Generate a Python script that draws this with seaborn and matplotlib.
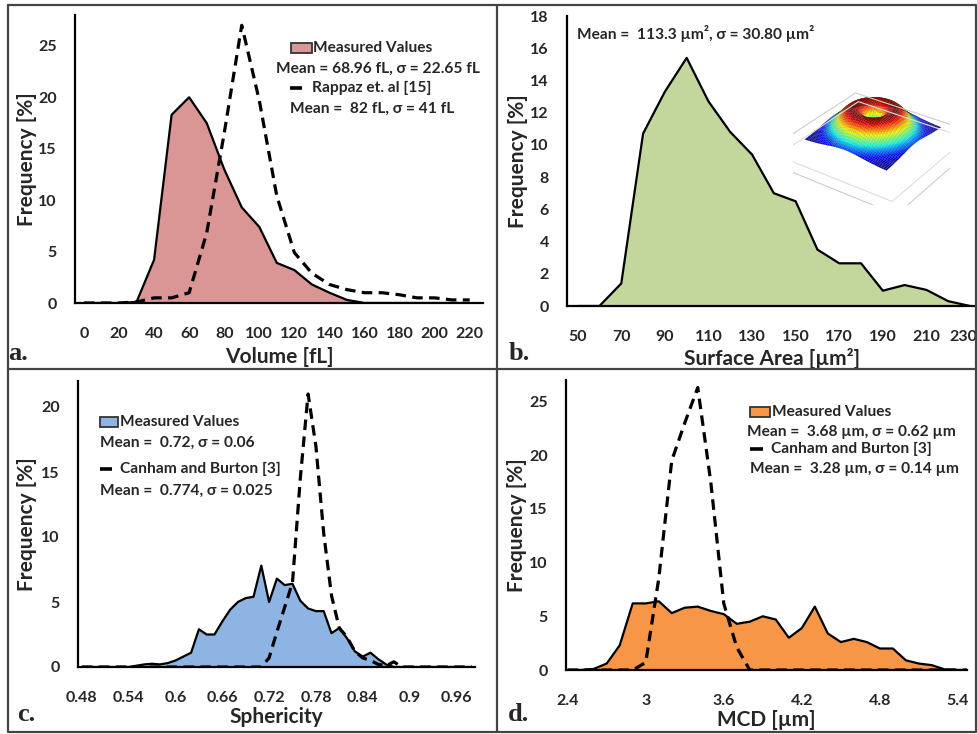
import numpy as np
import matplotlib
matplotlib.use("Agg")
import matplotlib.pyplot as plt
from matplotlib.patches import Rectangle
from matplotlib.lines import Line2D
from matplotlib.transforms import ScaledTranslation
import seaborn as sns

# ---- data ----
# a. volume distribution [fL]
vol_x = [0, 10, 20, 30, 40, 50, 60, 70, 80, 90, 100, 110, 120, 130, 140, 150, 160, 170, 180, 190, 200, 210, 220]
vol_meas = [0, 0, 0, 0.1, 4.2, 18.3, 20.0, 17.5, 13.0, 9.3, 7.4, 3.9, 3.2, 1.8, 1.0, 0.3, 0, 0, 0, 0, 0, 0, 0]
vol_rappaz = [0, 0, 0, 0.1, 0.5, 0.5, 1.0, 6.8, 16.5, 27.0, 19.7, 10.4, 4.9, 2.9, 1.8, 1.3, 1.0, 1.0, 0.8, 0.5, 0.5, 0.3, 0.3]

# b. surface area [um^2]
sa_x = [50, 60, 70, 80, 90, 100, 110, 120, 130, 140, 150, 160, 170, 180, 190, 200, 210, 220, 230]
sa_meas = [0, 0, 1.4, 10.7, 13.3, 15.4, 12.7, 10.8, 9.4, 7.0, 6.5, 3.5, 2.65, 2.65, 0.95, 1.3, 1.0, 0.3, 0]

# c. sphericity
sph_x = [round(0.48 + 0.01 * i, 2) for i in range(51)]
sph_meas = [0, 0, 0, 0, 0, 0, 0,
            0.1, 0.2, 0.25, 0.2, 0.3, 0.5, 0.8, 1.1, 2.9, 2.5, 2.5, 3.5, 4.4, 5.0, 5.3, 5.4,
            7.8, 5.0, 6.8, 6.3, 6.4, 5.1, 4.5, 4.3, 4.3, 2.6, 3.0, 2.2, 1.2, 0.8, 1.1, 0.6, 0.2,
            0, 0, 0, 0, 0, 0, 0, 0, 0, 0, 0]
sph_canham = [0] * 24 + [0.7, 2.7, 4.6, 6.5, 14.5, 21.0, 17.0, 10.3, 5.5, 3.0, 2.3, 1.2, 0.7, 0.5, 0.2, 0.1, 0.4] + [0] * 10

# d. MCD [um]
mcd_x = [round(2.4 + 0.1 * i, 1) for i in range(32)]
mcd_meas = [0, 0, 0.1, 0.6, 2.3, 6.2, 6.2, 6.4, 5.3, 5.8, 5.9, 5.5, 5.2, 4.3, 4.5, 5.0, 4.7, 3.0, 3.9, 5.9,
            3.4, 2.6, 2.9, 2.6, 2.0, 2.0, 0.9, 0.6, 0.45, 0.05, 0, 0]
mcd_canham = [0] * 6 + [0.7, 8.5, 19.5, 23.0, 26.3, 17.5, 6.2, 2.1, 0] + [0] * 17

sns.set_style("white")
plt.rcParams['font.family'] = ['Lato', 'DejaVu Sans']
plt.rcParams['font.weight'] = 'bold'

W, H = 978, 734
fig = plt.figure(figsize=(W / 100, H / 100), dpi=100)


def box(l, r, b, t):
    return [l / W, 1 - b / H, (r - l) / W, (b - t) / H]


def fx(x):
    return x / W


def fy(y):
    return 1 - y / H


dash = (0, (3.3, 2.0))
tick_fs = 11.5
lab_fs = 15


def panel(ax, x, meas, ref, color, xlim, ylim, major, minor, yticks, xlab, ylab_x, xlab_y):
    ax.fill_between(x, meas, color=color, lw=0, zorder=1)
    sns.lineplot(x=x, y=meas, ax=ax, color="black", lw=1.6, zorder=2)
    if ref is not None:
        sns.lineplot(x=x, y=ref, ax=ax, color="black", lw=2.3, linestyle=dash, zorder=3)
    ax.set_xlim(*xlim)
    ax.set_ylim(*ylim)
    ax.set_xticks(major)
    ax.set_xticklabels([f"{v:g}" for v in major])
    ax.set_xticks(minor, minor=True)
    ax.set_yticks(yticks)
    ax.tick_params(axis="x", which="major", length=0, pad=17, labelsize=tick_fs)
    ax.tick_params(axis="x", which="minor", length=5, width=1.5, direction="inout", color="black")
    ax.tick_params(axis="y", length=0, pad=13, labelsize=tick_fs)
    for s in ["top", "right"]:
        ax.spines[s].set_visible(False)
    for s in ["left", "bottom"]:
        ax.spines[s].set_color("black")
        ax.spines[s].set_linewidth(1.6)
        ax.spines[s].set_zorder(4)
    ax.set_xlabel(xlab, fontsize=lab_fs, fontweight="bold")
    ax.set_ylabel("Frequency [%]", fontsize=lab_fs, fontweight="bold")
    ax.xaxis.label.set_va("center")
    ax.yaxis.label.set_va("center")
    ax.xaxis.set_label_coords(0.5, xlab_y)
    ax.yaxis.set_label_coords(ylab_x, 0.5)


ax_a = fig.add_axes(box(75, 483, 303, 15))
panel(ax_a, vol_x, vol_meas, vol_rappaz, "#D99694", (-5.1, 227.6), (0, 28),
      list(range(0, 221, 20)), list(range(0, 221, 10)), [0, 5, 10, 15, 20, 25],
      "Volume [fL]", -48 / 408, -54 / 288)

ax_b = fig.add_axes(box(567, 977, 306, 16))
panel(ax_b, sa_x, sa_meas, None, "#C3D69B", (45.1, 233.2), (0, 18),
      list(range(50, 231, 20)), list(range(55, 230, 10)), list(range(0, 19, 2)),
      "Surface Area [µm²]", -49 / 410, -52 / 290)
last = ax_b.get_xticklabels()[-1]
last.set_ha("right")
last.set_transform(last.get_transform() + ScaledTranslation(0.07, 0, fig.dpi_scale_trans))

ax_c = fig.add_axes(box(78, 475, 667, 381))
panel(ax_c, sph_x, sph_meas, sph_canham, "#8EB4E3", (0.475, 0.984), (0, 22),
      [0.48, 0.54, 0.6, 0.66, 0.72, 0.78, 0.84, 0.9, 0.96],
      [round(0.495 + 0.02 * i, 3) for i in range(25)], [0, 5, 10, 15, 20],
      "Sphericity", -51 / 397, -50 / 286)

ax_d = fig.add_axes(box(566, 967, 670, 380))
panel(ax_d, mcd_x, mcd_meas, mcd_canham, "#F79646", (2.387, 5.47), (0, 27),
      [2.4, 3.0, 3.6, 4.2, 4.8, 5.4], [round(2.58 + 0.2 * i, 2) for i in range(15)],
      [0, 5, 10, 15, 20, 25], "MCD [µm]", -49 / 401, -50 / 290)

# ---- legends drawn as text ----
fs = 11.2


def patch(l, r, t, b, color):
    fig.add_artist(Rectangle((fx(l), fy(b)), (r - l) / W, (b - t) / H, transform=fig.transFigure,
                             facecolor=color, edgecolor="#333333", lw=1.3))


def dash_sym(l, r, y):
    fig.add_artist(Line2D([fx(l), fx(r)], [fy(y), fy(y)], transform=fig.transFigure,
                          color="black", lw=2.6, solid_capstyle="butt"))


def txt(x, y, s, ha="left", size=fs):
    fig.text(fx(x), fy(y), s, ha=ha, va="center", fontsize=size, fontweight="bold")


patch(291, 312, 43, 53, "#D99694")
txt(313, 48, "Measured Values")
txt(378, 69, "Mean = 68.96 fL, σ = 22.65 fL", ha="center")
dash_sym(290, 302, 88)
txt(312, 88, "Rappaz et. al [15]")
txt(290, 109, "Mean =  82 fL, σ = 41 fL")

txt(577, 33, "Mean =  113.3 µm², σ = 30.80 µm²")

patch(100, 118, 417, 427, "#8EB4E3")
txt(120, 422, "Measured Values")
txt(100, 443, "Mean =  0.72, σ = 0.06")
dash_sym(100, 112, 469)
txt(120, 469, "Canham and Burton [3]")
txt(100, 491, "Mean =  0.774, σ = 0.025")

patch(750, 770, 407, 417, "#F79646")
txt(772, 412, "Measured Values")
txt(747, 432, "Mean =  3.68 µm, σ = 0.62 µm")
dash_sym(750, 763, 449)
txt(771, 449, "Canham and Burton [3]")
txt(750, 469, "Mean =  3.28 µm, σ = 0.14 µm")

# panel letters
for lab, x, y in [("a.", 8, 360), ("b.", 509, 360), ("c.", 17, 721), ("d.", 508, 721)]:
    fig.text(fx(x), fy(y), lab, ha="left", va="baseline", fontsize=19, fontweight="bold",
             family=["Liberation Serif", "DejaVu Serif"])

# frame lines between panels
frame = dict(transform=fig.transFigure, color="#444444", lw=1.6)
fig.add_artist(Line2D([fx(8), fx(976), fx(976), fx(8), fx(8)], [fy(5), fy(5), fy(732), fy(732), fy(5)], **frame))
fig.add_artist(Line2D([fx(497), fx(497)], [fy(5), fy(732)], **frame))
fig.add_artist(Line2D([fx(8), fx(976)], [fy(369), fy(369)], **frame))

# small 3D cell-shape picture in panel b (decoration only)
ax3 = fig.add_axes(box(765, 978, 205, 48), projection="3d")
u = np.linspace(-1.0, 1.0, 50)
X, Y = np.meshgrid(u, u)
R = np.hypot(X, Y)
Z = 0.55 * np.exp(-((R - 0.45) / 0.4) ** 2) + 0.2 * np.exp(-(R / 1.0) ** 2) - 0.15 * np.exp(-(R / 0.18) ** 2)
ax3.plot_surface(X, Y, Z, cmap="jet", rstride=1, cstride=1, linewidth=0.15, edgecolor=(0, 0, 0, 0.25))
fl = -0.35
ax3.plot([-1.7, 1.7, 1.7, -1.7, -1.7], [-1.7, -1.7, 1.7, 1.7, -1.7], [fl] * 5, color="#cccccc", lw=0.8)
ax3.plot([-1.4, 1.4, 1.4, -1.4, -1.4], [-1.4, -1.4, 1.4, 1.4, -1.4], [fl] * 5, color="#dddddd", lw=0.8)
ax3.set_xlim(-1.7, 1.7)
ax3.set_ylim(-1.7, 1.7)
ax3.set_zlim(fl, 0.9)
ax3.view_init(elev=30, azim=-55)
ax3.set_box_aspect((1.6, 1.6, 0.5), zoom=1.5)
ax3.set_axis_off()
ax3.patch.set_alpha(0)

fig.savefig("out.png", dpi=100)
